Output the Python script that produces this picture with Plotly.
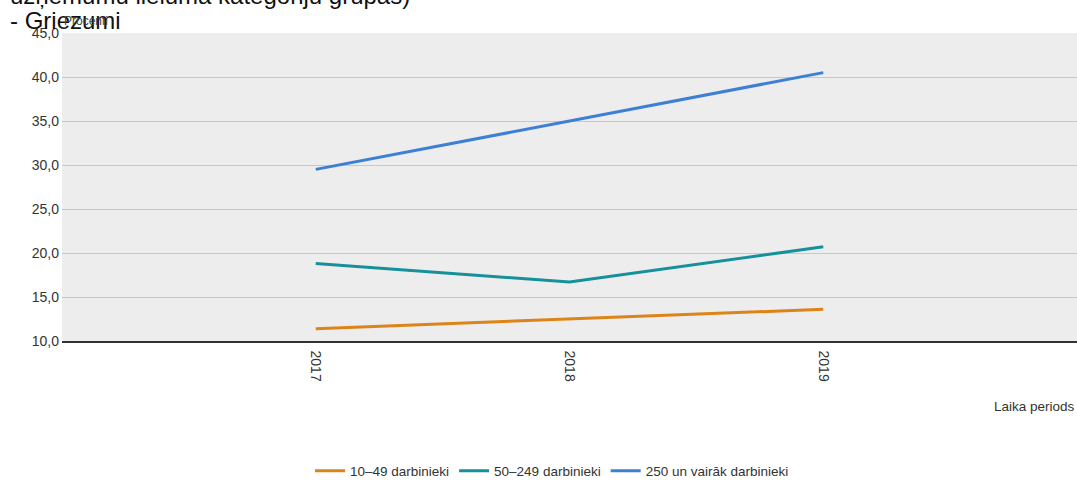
import plotly.graph_objects as go

years = [2017, 2018, 2019]
series_names = ["10–49 darbinieki", "50–249 darbinieki", "250 un vairāk darbinieki"]
s_small = [11.4, 12.5, 13.6]
s_medium = [18.8, 16.7, 20.7]
s_large = [29.5, 35.0, 40.5]
colors = ["#DD8419", "#16909B", "#3C7FD5"]
y_ticks = [10, 15, 20, 25, 30, 35, 40, 45]

W, H = 1077, 480
L, R, T, B = 62, 0, 33, 139
FONT = "Liberation Sans, Arial, sans-serif"

fig = go.Figure()
for name, vals, c in zip(series_names, [s_small, s_medium, s_large], colors):
    fig.add_trace(go.Scatter(x=years, y=vals, mode="lines", name=name,
                             line=dict(color=c, width=3)))

def py(p):
    return (H - B - p) / (H - T - B)

def px(p):
    return (p - L) / (W - L - R)

fig.update_layout(
    width=W, height=H,
    margin=dict(l=L, r=R, t=T, b=B, pad=0),
    paper_bgcolor="white",
    plot_bgcolor="#EDEDED",
    separators=", ",
    font=dict(family=FONT, size=13, color="#333333"),
    showlegend=True,
    legend=dict(orientation="h", xref="container", yref="container",
                x=552 / W, xanchor="center", y=(H - 471) / H, yanchor="middle",
                font=dict(size=13.5, color="#333333"), itemwidth=30, bgcolor="rgba(0,0,0,0)"),
    xaxis=dict(range=[2016, 2020], tickvals=years, ticktext=[str(y) for y in years],
               tickangle=90, showgrid=False, zeroline=False, showline=True,
               linecolor="#333333", linewidth=1.5, ticks="", tickfont=dict(size=14),
               ticklabelstandoff=5),
    yaxis=dict(range=[10, 45], tickvals=y_ticks, tickformat=".1f", showgrid=True,
               gridcolor="#C8C8C8", gridwidth=1, zeroline=False, showline=False,
               ticks="", tickfont=dict(size=14), ticklabelstandoff=2),
    annotations=[
        dict(text="uzņēmumu lieluma kategoriju grupās)", xref="paper", yref="paper",
             x=px(8), y=py(-5), xanchor="left", yanchor="middle",
             showarrow=False, font=dict(size=24, color="#111111", family=FONT)),
        dict(text="- Griezumi", xref="paper", yref="paper",
             x=px(8), y=py(20), xanchor="left", yanchor="middle",
             showarrow=False, font=dict(size=24, color="#111111", family=FONT)),
        dict(text="Procenti", xref="paper", yref="paper",
             x=0, y=py(21), xanchor="left", yanchor="middle",
             showarrow=False, font=dict(size=12, color="#444444")),
        dict(text="Laika periods", xref="paper", yref="paper",
             x=1, y=py(406), xanchor="right", yanchor="middle",
             showarrow=False, font=dict(size=13.5, color="#333333")),
    ],
)

fig.write_html("out.html", config={"displayModeBar": False},
               post_script="document.body.style.margin='0';")
